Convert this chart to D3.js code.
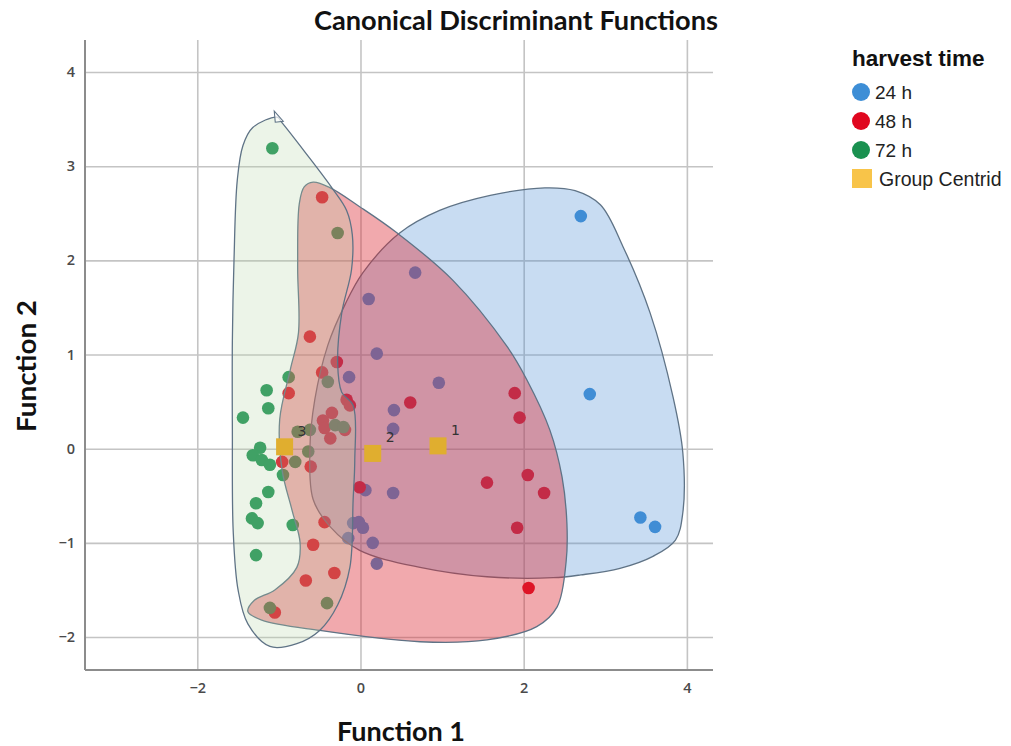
<!DOCTYPE html>
<html><head><meta charset="utf-8">
<script src="https://cdn.jsdelivr.net/npm/d3@7"></script>
<style>body{margin:0;background:#fff;} svg{display:block;}</style>
</head><body>
<svg id="chart" width="1011" height="746"></svg>
<script>
// ---------- data ----------
const xTicks = [-2, 0, 2, 4];
const yTicks = [-2, -1, 0, 1, 2, 3, 4];
const groupNames = ["24 h", "48 h", "72 h"];
const groupColors = ["#3d8ed6", "#e0071f", "#1a9150"];
const centroidLabel = "Group Centrid";

const points24 = [
  [2.70, 2.47], [2.81, 0.58], [3.43, -0.73], [3.61, -0.83],
  [0.67, 1.87], [0.10, 1.59], [0.20, 1.01], [-0.14, 0.76], [0.96, 0.70],
  [0.41, 0.41], [0.40, 0.21], [0.06, -0.44], [0.40, -0.47],
  [-0.09, -0.79], [-0.02, -0.78], [0.03, -0.84], [-0.15, -0.95],
  [0.15, -1.00], [0.20, -1.22]
];
const points48 = [
  [-0.47, 2.67], [-0.62, 1.19], [-0.29, 0.92], [-0.47, 0.81], [-0.88, 0.59],
  [-0.17, 0.52], [-0.13, 0.46], [0.61, 0.49], [-0.35, 0.38], [-0.46, 0.30],
  [-0.44, 0.22], [-0.19, 0.20], [-0.37, 0.11], [-0.96, -0.14], [-0.61, -0.19],
  [-0.01, -0.41], [1.55, -0.36], [2.05, -0.28], [2.25, -0.47], [1.92, -0.84],
  [1.89, 0.59], [1.95, 0.33], [-0.44, -0.78], [-0.58, -1.02], [-0.32, -1.32],
  [-0.67, -1.40], [-1.05, -1.74], [2.06, -1.48]
];
const points72 = [
  [-1.08, 3.19], [-0.28, 2.29], [-0.88, 0.76], [-1.15, 0.62], [-0.40, 0.71],
  [-1.13, 0.43], [-1.44, 0.33], [-0.77, 0.18], [-0.62, 0.20], [-0.31, 0.25],
  [-0.21, 0.23], [-1.23, 0.01], [-1.32, -0.07], [-1.21, -0.12], [-1.11, -0.17],
  [-0.80, -0.14], [-0.64, -0.03], [-0.95, -0.28], [-1.13, -0.46], [-1.28, -0.58],
  [-1.33, -0.74], [-1.26, -0.79], [-0.83, -0.81], [-1.28, -1.13], [-1.11, -1.69],
  [-0.41, -1.64]
];
const centroids = [
  {label: "1", x: 0.95, y: 0.03},
  {label: "2", x: 0.15, y: -0.05},
  {label: "3", x: -0.93, y: 0.02}
];

// freehand outlines drawn around each group
const hull24 = [
  [0.48, 2.29], [0.97, 2.53], [1.59, 2.69], [2.26, 2.77], [2.63, 2.74], [2.94, 2.59],
  [3.22, 2.14], [3.55, 1.44], [3.83, 0.55], [3.95, -0.04], [3.95, -0.68], [3.86, -0.97],
  [3.59, -1.14], [3.18, -1.27], [2.70, -1.34], [2.36, -1.37], [1.55, -1.36], [0.73, -1.26],
  [-0.01, -1.08], [-0.37, -0.83], [-0.58, -0.54], [-0.62, -0.01], [-0.56, 0.52],
  [-0.40, 1.10], [-0.19, 1.53], [0.03, 1.87]
];
const hull48 = [
  [-0.58, 2.83], [-0.37, 2.77], [-0.01, 2.57], [0.45, 2.29], [1.13, 1.79], [1.80, 1.08],
  [2.04, 0.73], [2.32, 0.20], [2.47, -0.30], [2.53, -0.80], [2.52, -1.20], [2.41, -1.68],
  [2.16, -1.89], [1.55, -2.03], [0.73, -2.05], [-0.50, -1.93], [-1.21, -1.82],
  [-1.38, -1.73], [-1.30, -1.61], [-1.05, -1.50], [-0.78, -1.26], [-0.74, -1.00],
  [-0.84, -0.65], [-0.96, -0.23], [-0.99, 0.31], [-0.86, 0.84], [-0.76, 1.23],
  [-0.77, 1.93], [-0.75, 2.60], [-0.69, 2.78]
];
const hull72 = [
  [-1.02, 3.52], [-0.96, 3.46], [-0.68, 3.15], [-0.35, 2.77], [-0.17, 2.53], [-0.10, 2.27],
  [-0.11, 1.90], [-0.23, 1.44], [-0.28, 0.91], [-0.23, 0.60], [-0.09, 0.46], [-0.07, -0.12],
  [-0.09, -0.54], [-0.13, -1.26], [-0.28, -1.66], [-0.50, -1.93], [-0.78, -2.07],
  [-1.11, -2.10], [-1.38, -1.86], [-1.50, -1.50], [-1.56, -0.87], [-1.57, 0.20],
  [-1.57, 1.15], [-1.55, 2.00], [-1.51, 2.85], [-1.44, 3.22], [-1.32, 3.41]
];

// ---------- layout ----------
const svg = d3.select("#chart");
const x = d3.scaleLinear().domain([-3.376, 4.32]).range([85, 713]);
const y = d3.scaleLinear().domain([-2.35, 4.34]).range([670, 40]);
const color = d3.scaleOrdinal().domain(groupNames).range(groupColors);

// gridlines + axes
const gx = svg.append("g").attr("transform", "translate(0,670)")
  .call(d3.axisBottom(x).tickValues(xTicks).tickSize(-630).tickPadding(13).tickFormat(d3.format("d")));
const gy = svg.append("g").attr("transform", "translate(85,0)")
  .call(d3.axisLeft(y).tickValues(yTicks).tickSize(-628).tickPadding(10).tickFormat(d3.format("d")));
[gx, gy].forEach(g => {
  g.selectAll(".tick line").attr("stroke", "#c4c4c4").attr("stroke-width", 1.6);
  g.select(".domain").attr("stroke", "#8c8c8c").attr("stroke-width", 2);
  g.selectAll(".tick text").attr("fill", "#4a4a4a")
    .style("font-family", "'Open Sans', 'DejaVu Sans', sans-serif")
    .style("font-size", "14.5px").style("font-weight", "600");
});
gx.select(".domain").raise().attr("d", "M85,0H713");
gy.select(".domain").raise().attr("d", "M0,40V670");

// points (underneath the translucent outlines)
const series = [
  {name: groupNames[0], pts: points24},
  {name: groupNames[1], pts: points48},
  {name: groupNames[2], pts: points72}
];
const pg = svg.append("g");
series.forEach(s => {
  pg.selectAll(null).data(s.pts).enter().append("circle")
    .attr("cx", d => x(d[0])).attr("cy", d => y(d[1])).attr("r", 6.3)
    .attr("fill", color(s.name));
});

// outlines
const line = d3.line().x(d => x(d[0])).y(d => y(d[1])).curve(d3.curveCatmullRomClosed.alpha(0.5));
const hulls = [
  {pts: hull24, fill: "rgb(72,138,212)", op: 0.3},
  {pts: hull48, fill: "rgb(220,40,50)", op: 0.4},
  {pts: hull72, fill: "rgb(179,211,163)", op: 0.25}
];
hulls.forEach(h => {
  svg.append("path").attr("d", line(h.pts))
    .attr("fill", h.fill).attr("fill-opacity", h.op)
    .attr("stroke", "#5f7386").attr("stroke-width", 1.3);
});
// small handle marker at the tip of the green outline
const tip = hull72[0];
svg.append("path")
  .attr("d", `M${x(tip[0]) - 3},${y(tip[1]) - 6} L${x(tip[0]) + 6},${y(tip[1]) + 4} L${x(tip[0]) - 2},${y(tip[1]) + 5} Z`)
  .attr("fill", "#fff").attr("fill-opacity", 0.7).attr("stroke", "#5f7386").attr("stroke-width", 1.1);

// centroids
const cg = svg.append("g");
cg.selectAll("rect").data(centroids).enter().append("rect")
  .attr("x", d => x(d.x) - 8.5).attr("y", d => y(d.y) - 8.5)
  .attr("width", 17).attr("height", 17).attr("fill", "#e0ae2f");
cg.selectAll("text").data(centroids).enter().append("text")
  .attr("x", d => x(d.x) + 13).attr("y", d => y(d.y) - 11)
  .attr("fill", "#333").style("font-family", "'DejaVu Sans', sans-serif").style("font-size", "14px")
  .text(d => d.label);

// title & axis titles
svg.append("text").attr("x", 516).attr("y", 30).attr("text-anchor", "middle")
  .attr("textLength", 404).attr("lengthAdjust", "spacingAndGlyphs")
  .style("font-family", "Lato, 'Open Sans', sans-serif").style("font-weight", "bold").style("font-size", "26px")
  .attr("fill", "#111").text("Canonical Discriminant Functions");
svg.append("text").attr("x", 401).attr("y", 741).attr("text-anchor", "middle")
  .attr("textLength", 128).attr("lengthAdjust", "spacingAndGlyphs")
  .style("font-family", "Lato, 'Open Sans', sans-serif").style("font-weight", "bold").style("font-size", "27px")
  .attr("fill", "#111").text("Function 1");
svg.append("text").attr("transform", "translate(36,366) rotate(-90)").attr("text-anchor", "middle")
  .attr("textLength", 132).attr("lengthAdjust", "spacingAndGlyphs")
  .style("font-family", "Lato, 'Open Sans', sans-serif").style("font-weight", "bold").style("font-size", "27px")
  .attr("fill", "#111").text("Function 2");

// legend
const lg = svg.append("g");
lg.append("text").attr("x", 852).attr("y", 66)
  .style("font-family", "'Liberation Sans', Arial, sans-serif").style("font-weight", "bold").style("font-size", "22.5px")
  .attr("fill", "#111").text("harvest time");
groupNames.forEach((n, i) => {
  lg.append("circle").attr("cx", 861).attr("cy", 92 + i * 29).attr("r", 9).attr("fill", color(n));
  lg.append("text").attr("x", 875).attr("y", 99 + i * 29)
    .style("font-family", "'Liberation Sans', Arial, sans-serif").style("font-size", "19px")
    .attr("fill", "#222").text(n);
});
lg.append("rect").attr("x", 852).attr("y", 169).attr("width", 20).attr("height", 19).attr("fill", "#f8c449");
lg.append("text").attr("x", 879).attr("y", 186)
  .style("font-family", "'Liberation Sans', Arial, sans-serif").style("font-size", "19.5px")
  .attr("fill", "#222").text(centroidLabel);
</script>
</body></html>
